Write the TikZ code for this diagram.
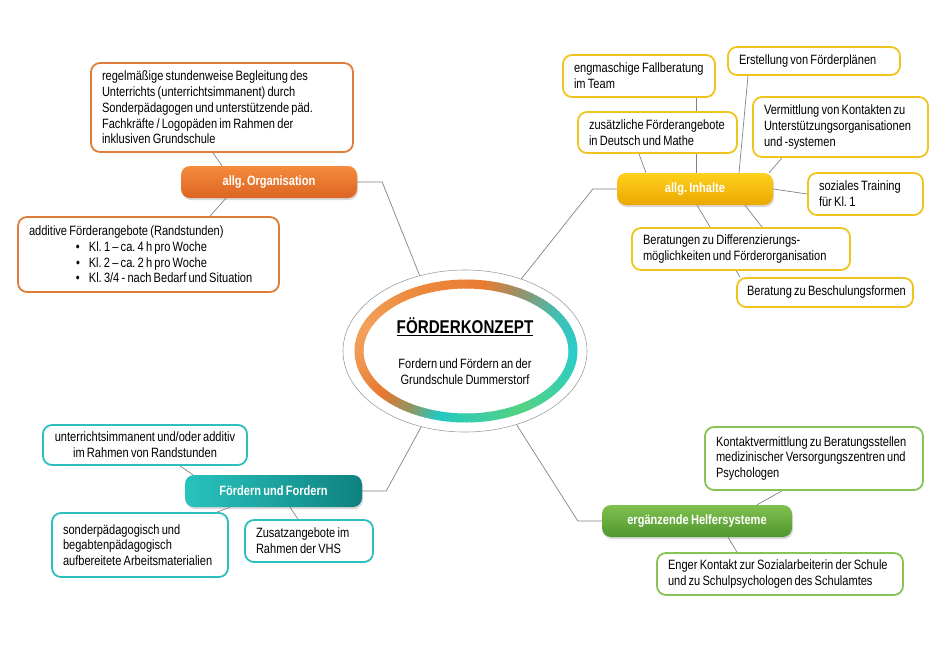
\documentclass[tikz,border=0pt]{standalone}
\usepackage{fontspec}
\setmainfont{Liberation Sans}[FakeStretch=0.82, WordSpace=0.72]
\usepackage{xcolor}
\usepackage{tikz}
\usetikzlibrary{shapes.geometric, shadows, backgrounds}

\definecolor{orgline}{RGB}{222,125,55}
\definecolor{inhline}{RGB}{240,196,30}
\definecolor{fordline}{RGB}{45,190,190}
\definecolor{helfline}{RGB}{135,195,85}
\definecolor{linkgray}{RGB}{130,130,130}
% ring colours
\definecolor{ringA}{RGB}{40,205,205}
\definecolor{ringB}{RGB}{70,188,175}
\definecolor{ringC}{RGB}{150,145,105}
\definecolor{ringD}{RGB}{232,125,50}
\definecolor{ringE}{RGB}{238,138,62}
\definecolor{ringF}{RGB}{243,162,92}
\definecolor{ringG}{RGB}{240,150,80}
\definecolor{ringH}{RGB}{230,120,48}
\definecolor{ringI}{RGB}{140,150,100}
\definecolor{ringJ}{RGB}{35,200,195}
\definecolor{ringK}{RGB}{85,210,130}
\definecolor{ringL}{RGB}{60,208,170}

\begin{document}
\frenchspacing
\begin{tikzpicture}[
    x=1pt, y=-1pt,
    info_box/.style={rectangle, draw, rounded corners=9pt, line width=1.8pt, fill=white, inner xsep=11pt, inner ysep=3pt, align=flush left, font=\fontsize{13.5}{15.7}\selectfont},
    branch_box/.style={rectangle, rounded corners=9pt, minimum height=32pt, text=white, font=\bfseries\fontsize{13.5}{15}\selectfont, drop shadow={opacity=0.3, shadow xshift=1pt, shadow yshift=-2pt}},
    link/.style={draw=linkgray, line width=0.7pt}
]
\useasboundingbox (0,0) rectangle (946,654);

% centre
\node (core) [ellipse, draw=gray!75, line width=0.6pt, minimum width=244pt, minimum height=162pt] at (465,351) {};
\begin{scope}[shift={(466,351)}, yscale=-1]
\foreach \a/\b/\ca/\cb in {0/35/ringA/ringB, 35/60/ringB/ringC, 60/80/ringC/ringD, 80/120/ringD/ringE, 120/160/ringE/ringF, 160/190/ringF/ringG, 190/220/ringG/ringH, 220/240/ringH/ringI, 240/255/ringI/ringJ, 255/300/ringJ/ringK, 300/330/ringK/ringL, 330/360/ringL/ringA}{
  \pgfmathtruncatemacro{\n}{(\b-\a)/2.5}
  \foreach \k in {1,...,\n}{
    \pgfmathsetmacro{\s}{\a+(\k-1)*(\b-\a)/\n}
    \pgfmathsetmacro{\e}{\a+\k*(\b-\a)/\n+0.6}
    \pgfmathtruncatemacro{\p}{100-100*(\k-0.5)/\n}
    \colorlet{segcol}{\ca!\p!\cb}
    \draw[segcol, line width=9pt] (\s:107 and 67) arc[start angle=\s, end angle=\e, x radius=107, y radius=67];
  }
}
\end{scope}
\node (title) at (465,327) {\fontsize{18.5}{21}\selectfont\bfseries\underline{FÖRDERKONZEPT}};
\node (subtitle) [align=flush center, font=\fontsize{13.5}{16}\selectfont] at (465,372) {Fordern und Fördern an der\\Grundschule Dummerstorf};

% allg. Organisation
\node (org) [branch_box, minimum width=176pt, top color={rgb,255:red,245;green,140;blue,60}, bottom color={rgb,255:red,220;green,100;blue,35}] at (269,182) {allg. Organisation};
\node (orgA) [info_box, draw=orgline, text width=240pt, minimum height=89pt] at (222,107.5) {regelmäßige stundenweise Begleitung des\\Unterrichts (unterrichtsimmanent) durch\\Sonderpädagogen und unterstützende päd.\\Fachkräfte / Logopäden im Rahmen der\\inklusiven Grundschule};
\node (orgB) [info_box, draw=orgline, text width=239pt, minimum height=75pt] at (148.5,254.5) {additive Förderangebote (Randstunden)\\
\hspace*{47pt}\textbullet\hspace{9pt}Kl. 1 – ca. 4 h pro Woche\\
\hspace*{47pt}\textbullet\hspace{9pt}Kl. 2 – ca. 2 h pro Woche\\
\hspace*{47pt}\textbullet\hspace{9pt}Kl. 3/4 - nach Bedarf und Situation};

% allg. Inhalte
\node (inh) [branch_box, minimum width=156pt, top color={rgb,255:red,255;green,208;blue,30}, bottom color={rgb,255:red,235;green,168;blue,0}] at (695,189) {allg. Inhalte};
\node (inhA) [info_box, draw=inhline, text width=130pt, minimum height=42pt] at (639,76) {engmaschige Fallberatung\\im Team};
\node (inhB) [info_box, draw=inhline, text width=150pt, minimum height=28pt] at (814,61) {Erstellung von Förderplänen};
\node (inhC) [info_box, draw=inhline, text width=137pt, minimum height=41pt] at (657.5,132.5) {zusätzliche Förderangebote\\in Deutsch und Mathe};
\node (inhD) [info_box, draw=inhline, text width=153pt, minimum height=60pt] at (840.5,127) {Vermittlung von Kontakten zu\\Unterstützungsorganisationen\\und -systemen};
\node (inhE) [info_box, draw=inhline, text width=93pt, minimum height=42pt] at (865.5,194) {soziales Training\\für Kl. 1};
\node (inhF) [info_box, draw=inhline, text width=196pt, minimum height=42pt] at (741,249) {Beratungen zu Differenzierungs-\\möglichkeiten und Förderorganisation};
\node (inhG) [info_box, draw=inhline, text width=166pt, inner xsep=5pt, minimum height=29pt] at (825,292.5) {\hspace*{5pt}Beratung zu Beschulungsformen};

% Foerdern und Fordern
\node (ford) [branch_box, minimum width=177pt, left color={rgb,255:red,40;green,195;blue,190}, right color={rgb,255:red,15;green,130;blue,128}] at (273.5,491) {Fördern und Fordern};
\node (fordA) [info_box, draw=fordline, text width=194pt, inner xsep=5pt, minimum height=40pt, align=flush center] at (145,445) {unterrichtsimmanent und/oder additiv\\im Rahmen von Randstunden};
\node (fordB) [info_box, draw=fordline, text width=154pt, minimum height=64pt] at (140,545) {sonderpädagogisch und\\begabtenpädagogisch\\aufbereitete Arbeitsmaterialien};
\node (fordC) [info_box, draw=fordline, text width=106pt, minimum height=42pt] at (309,541) {Zusatzangebote im\\Rahmen der VHS};

% ergaenzende Helfersysteme
\node (helf) [branch_box, minimum width=190pt, top color={rgb,255:red,128;green,192;blue,80}, bottom color={rgb,255:red,80;green,150;blue,45}] at (697,521) {ergänzende Helfersysteme};
\node (helfA) [info_box, draw=helfline, text width=196pt, minimum height=63pt] at (814,458.5) {Kontaktvermittlung zu Beratungsstellen\\medizinischer Versorgungszentren und\\Psychologen};
\node (helfB) [info_box, draw=helfline, text width=224pt, minimum height=42pt] at (780,574) {Enger Kontakt zur Sozialarbeiterin der Schule\\und zu Schulpsychologen des Schulamtes};

\begin{scope}[on background layer]
\draw [link] (org.east) -- ++(25,0) -- (core.121);
\draw [link] (inh.west) -- ++(-24,0) -- (core.52);
\draw [link] (ford.east) -- ++(24,0) -- (core.240);
\draw [link] (helf.west) -- ++(-24,0) -- (core.-55);

\draw [link] ([xshift=-9]orgA.south) -- ([xshift=-47]org.north);
\draw [link] ([xshift=61.5]orgB.north) -- ([xshift=-43]org.south);

\draw [link] ([xshift=57]inhA.south) -- ([xshift=1]inh.north);
\draw [link] ([xshift=-18.5]inhC.south) -- ([xshift=-49]inh.north);
\draw [link] ([xshift=-66]inhB.south) -- ([xshift=44]inh.north);
\draw [link] ([xshift=-58.5]inhD.south) -- ([xshift=74]inh.north);
\draw [link] (inh.east) -- (inhE.west);
\draw [link] ([xshift=50]inh.south) -- ([xshift=21]inhF.north);
\draw [link] ([xshift=2]inh.south) -- ([xshift=-85]inhG.north);

\draw [link] ([xshift=35]fordA.south) -- ([xshift=-80.5]ford.north);
\draw [link] ([xshift=-43.5]ford.south) -- ([xshift=77]fordB.north);
\draw [link] ([xshift=16.5]ford.south) -- ([xshift=-11]fordC.north);

\draw [link] ([xshift=-32]helfA.south) -- ([xshift=60]helf.north);
\draw [link] ([xshift=31]helf.south) -- ([xshift=-43]helfB.north);
\end{scope}
\end{tikzpicture}
\end{document}
